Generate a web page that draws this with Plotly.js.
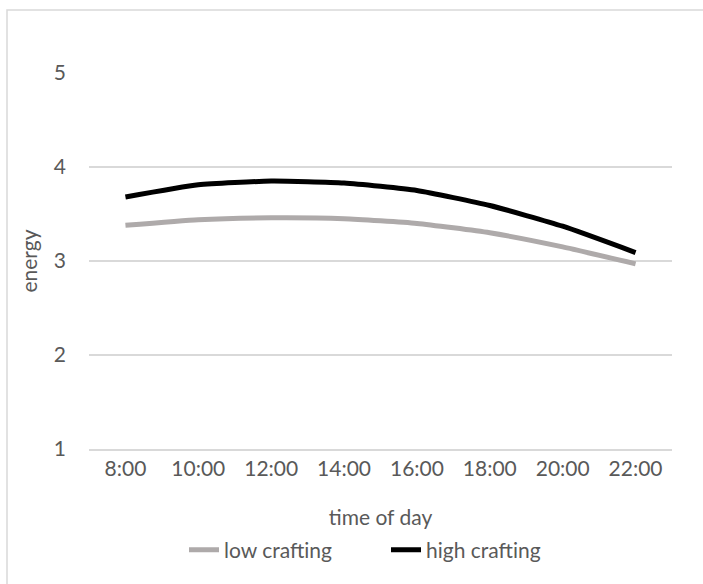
<!DOCTYPE html>
<html>
<head>
<meta charset="utf-8">
<script src="https://cdn.plot.ly/plotly-3.0.1.min.js"></script>
<style>
  html, body { margin: 0; padding: 0; background: #ffffff; }
  #chart { width: 703px; height: 584px; }
</style>
</head>
<body>
<div id="chart"></div>
<script>
const timeLabels = ["8:00", "10:00", "12:00", "14:00", "16:00", "18:00", "20:00", "22:00"];
const lowCrafting = [3.38, 3.44, 3.46, 3.45, 3.40, 3.30, 3.15, 2.97];
const highCrafting = [3.68, 3.81, 3.85, 3.83, 3.75, 3.59, 3.37, 3.09];
const seriesNames = ["low crafting", "high crafting"];
const yTicks = [1, 2, 3, 4, 5];

const textColor = "#595959";
const fontFamily = "Lato, 'Open Sans', sans-serif";
const fs = 21;

const traces = [
  {
    x: timeLabels, y: lowCrafting, name: seriesNames[0], type: "scatter", mode: "lines",
    line: { color: "#AEAAAA", width: 5, shape: "spline", smoothing: 0.5 }
  },
  {
    x: timeLabels, y: highCrafting, name: seriesNames[1], type: "scatter", mode: "lines",
    line: { color: "#000000", width: 5, shape: "spline", smoothing: 0.5 }
  }
];

const L = 89, R = 31, T = 73, B = 135, W = 703, H = 584;
const pw = W - L - R, ph = H - T - B;
const px2x = p => (p - L) / pw;
const py2y = p => (H - B - p) / ph;

const layout = {
  width: W, height: H,
  margin: { l: L, r: R, t: T, b: B, pad: 0 },
  paper_bgcolor: "#ffffff", plot_bgcolor: "#ffffff",
  font: { family: fontFamily, size: fs, color: textColor },
  showlegend: true,
  legend: {
    orientation: "h", x: px2x(184), xanchor: "left", y: py2y(550), yanchor: "middle",
    font: { family: fontFamily, size: fs, color: textColor },
    entrywidth: 157, entrywidthmode: "pixels",
    tracegroupgap: 0, bgcolor: "rgba(0,0,0,0)"
  },
  xaxis: {
    type: "category", range: [-0.5, 7.5], showgrid: false, zeroline: false,
    showline: true, linecolor: "#d9d9d9", linewidth: 1.5,
    ticks: "", ticklabelstandoff: 0,
    tickfont: { family: fontFamily, size: fs, color: textColor },
    title: { text: "time of day", font: { family: fontFamily, size: fs, color: textColor }, standoff: 31 }
  },
  yaxis: {
    range: [1, 5], tickvals: yTicks, showgrid: true, gridcolor: "#d9d9d9", gridwidth: 1.5,
    zeroline: false, showline: false, ticks: "", ticklabelstandoff: 22,
    tickfont: { family: fontFamily, size: fs, color: textColor },
    title: { text: "energy", font: { family: fontFamily, size: fs, color: textColor }, standoff: 10 }
  },
  shapes: [
    { type: "rect", xref: "paper", yref: "paper", x0: px2x(7), x1: px2x(720), y0: py2y(600), y1: py2y(10),
      line: { color: "#d9d9d9", width: 1.5 }, fillcolor: "rgba(0,0,0,0)", layer: "below" }
  ]
};

Plotly.newPlot("chart", traces, layout, { displayModeBar: false, staticPlot: true });
</script>
</body>
</html>
